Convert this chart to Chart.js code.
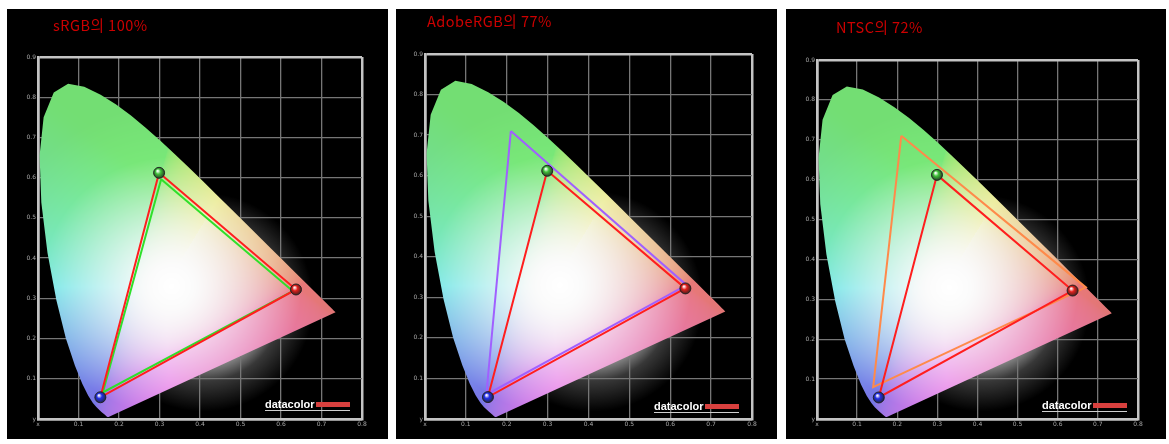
<!DOCTYPE html>
<html>
<head>
<meta charset="utf-8">
<script src="https://cdn.jsdelivr.net/npm/chart.js@4.4.1/dist/chart.umd.min.js"></script>
<style>
  html, body { margin: 0; padding: 0; background: #fff; }
  body { width: 1169px; height: 444px; position: relative; overflow: hidden; }
  .panel { position: absolute; background: #000; }
  .panel canvas { position: absolute; left: 0; top: 0; }
  .title { position: absolute; color: #cc0000; font-family: "Noto Sans CJK KR", sans-serif; font-size: 14.5px; line-height: 1; white-space: nowrap; letter-spacing: 0.5px; }
  .logo { position: absolute; display: flex; align-items: center; height: 9px; padding-bottom: 1px; border-bottom: 1px solid #cfcfcf; }
  .logo .word { color: #fff; font: bold 11px "Liberation Sans", sans-serif; letter-spacing: 0px; line-height: 9px; }
  .logo .bar { width: 34px; height: 5px; background: #d8403e; margin-left: 1px; }
</style>
</head>
<body>
<script>
// --- DATOS ---
// locus espectral CIE 1931 (x, y)
const locusX = [0.1741, 0.1733, 0.1714, 0.1689, 0.1644, 0.1566, 0.1440, 0.1355, 0.1241, 0.1096, 0.0913, 0.0687, 0.0454, 0.0235, 0.0082, 0.0039, 0.0139, 0.0389, 0.0743, 0.1142, 0.1547, 0.1929, 0.2296, 0.2658, 0.3016, 0.3373, 0.3731, 0.4087, 0.4441, 0.4788, 0.5125, 0.5448, 0.5752, 0.6029, 0.6270, 0.6482, 0.6658, 0.6915, 0.7079, 0.7190, 0.7260, 0.7300, 0.7334, 0.7347];
const locusY = [0.0050, 0.0048, 0.0051, 0.0069, 0.0109, 0.0177, 0.0297, 0.0399, 0.0578, 0.0868, 0.1327, 0.2007, 0.2950, 0.4127, 0.5384, 0.6548, 0.7502, 0.8120, 0.8338, 0.8262, 0.8059, 0.7816, 0.7543, 0.7243, 0.6923, 0.6589, 0.6245, 0.5896, 0.5547, 0.5202, 0.4866, 0.4544, 0.4242, 0.3965, 0.3725, 0.3514, 0.3340, 0.3083, 0.2920, 0.2809, 0.2740, 0.2700, 0.2666, 0.2653];

// primarios medidos (G, R, B)
const measuredX = [0.299, 0.637, 0.154];
const measuredY = [0.612, 0.322, 0.054];

// gamuts de referencia (G, R, B)
const srgbX = [0.304, 0.629, 0.160];
const srgbY = [0.596, 0.318, 0.066];
const adobeX = [0.21, 0.64, 0.15];
const adobeY = [0.71, 0.33, 0.06];
const ntscX = [0.21, 0.67, 0.14];
const ntscY = [0.71, 0.33, 0.08];

const panelTitles = ['sRGB의 100%', 'AdobeRGB의 77%', 'NTSC의 72%'];
const xTickLabels = ['x', '0.1', '0.2', '0.3', '0.4', '0.5', '0.6', '0.7', '0.8'];
const yTickLabels = ['y', '0.1', '0.2', '0.3', '0.4', '0.5', '0.6', '0.7', '0.8', '0.9'];

// --- LAYOUT ---
const panels = [
  { left: 7,   width: 381, ref: [srgbX, srgbY],   refColor: '#2ee02a', pad: { left: 11, top: 48, right: 26, bottom: 8 }, title: [46, 9],  logo: [258, 391] },
  { left: 396, width: 381, ref: [adobeX, adobeY], refColor: '#a060ff', pad: { left: 9,  top: 45, right: 25, bottom: 8 }, title: [31, 5],  logo: [258, 393] },
  { left: 786, width: 380, ref: [ntscX, ntscY],   refColor: '#ff8a4a', pad: { left: 11, top: 51, right: 28, bottom: 8 }, title: [50, 11], logo: [256, 392] }
];
const ballColors = ['#3fc23a', '#e3201c', '#2230e8'];

function pts(xs, ys, close) {
  const out = xs.map((x, i) => ({ x: x, y: ys[i] }));
  if (close) out.push(out[0]);
  return out;
}

// color del diagrama: xy -> sRGB, lavado hacia el blanco
function chromaColor(x, y) {
  const X = x / y, Z = (1 - x - y) / y;
  let r = 3.2406 * X - 1.5372 - 0.4986 * Z;
  let g = -0.9689 * X + 1.8758 + 0.0415 * Z;
  let b = 0.0557 * X - 0.2040 + 1.0570 * Z;
  r = Math.max(r, 0); g = Math.max(g, 0); b = Math.max(b, 0);
  const m = Math.max(r, g, b) || 1;
  r /= m; g /= m; b /= m;
  if (g === 1) b = b * b;                       // el verde domina más
  if (b === 1) g = Math.pow(g, 2 - r);          // azul más violeta, sin saltos
  const gam = v => v <= 0.0031308 ? 12.92 * v : 1.055 * Math.pow(v, 1 / 2.4) - 0.055;
  const d = Math.hypot(x - 0.33, y - 0.33);
  const t = Math.min(1, Math.max(0, (d - 0.05) / 0.27));
  const s = Math.pow(t, 1.2) * 0.48;
  const k = 1 - Math.min(1, d / 0.45) * 0.13;
  return [gam(r), gam(g), gam(b)].map(v => Math.round(255 * k * (1 - s + s * v)));
}

function chromaFill(chart) {
  const area = chart.chartArea;
  if (!area || !chart.scales.x) return 'rgba(0,0,0,0)';
  if (chart.$chroma) return chart.$chroma;
  const w = chart.width, h = chart.height;
  const off = document.createElement('canvas');
  off.width = w; off.height = h;
  const octx = off.getContext('2d');
  const img = octx.createImageData(w, h);
  const xs = chart.scales.x, ys = chart.scales.y;
  for (let py = Math.floor(area.top); py < Math.ceil(area.bottom); py++) {
    const cy = ys.getValueForPixel(py + 0.5);
    if (cy < 0.002) continue;
    for (let px = Math.floor(area.left); px < Math.ceil(area.right); px++) {
      const cx = xs.getValueForPixel(px + 0.5);
      const c = chromaColor(cx, cy);
      const i = (py * w + px) * 4;
      img.data[i] = c[0]; img.data[i + 1] = c[1]; img.data[i + 2] = c[2]; img.data[i + 3] = 255;
    }
  }
  octx.putImageData(img, 0, 0);
  chart.$chroma = chart.ctx.createPattern(off, 'no-repeat');
  return chart.$chroma;
}

// bolitas brillantes de los primarios
function ballFill(c) {
  const chart = c.chart;
  if (!chart.chartArea || !c.parsed) return ballColors[c.dataIndex];
  const px = chart.scales.x.getPixelForValue(c.parsed.x);
  const py = chart.scales.y.getPixelForValue(c.parsed.y);
  const g = chart.ctx.createRadialGradient(px - 1.5, py - 2, 0.5, px, py, 6.5);
  g.addColorStop(0, 'rgba(255,255,255,0.9)');
  g.addColorStop(0.35, ballColors[c.dataIndex]);
  g.addColorStop(1, '#202020');
  return g;
}

// brillo blanco detrás del diagrama
const glowPlugin = {
  id: 'glow',
  beforeDraw(chart) {
    const { ctx, chartArea: a, scales: { x, y } } = chart;
    const cx = x.getPixelForValue(0.41), cy = y.getPixelForValue(0.29);
    const r = x.getPixelForValue(0.27) - x.getPixelForValue(0);
    ctx.save();
    ctx.beginPath();
    ctx.rect(a.left, a.top, a.right - a.left, a.bottom - a.top);
    ctx.clip();
    const g = ctx.createRadialGradient(cx, cy, 0, cx, cy, r);
    g.addColorStop(0, 'rgba(255,255,255,1)');
    g.addColorStop(0.45, 'rgba(255,255,255,0.8)');
    g.addColorStop(0.72, 'rgba(255,255,255,0.22)');
    g.addColorStop(1, 'rgba(255,255,255,0)');
    ctx.fillStyle = g;
    ctx.fillRect(a.left, a.top, a.right - a.left, a.bottom - a.top);
    ctx.restore();
  }
};

function axis(labels, max) {
  return {
    type: 'linear', min: 0, max: max,
    ticks: {
      stepSize: 0.1, autoSkip: false, maxRotation: 0, padding: 2,
      color: '#a8a8a8', font: { family: 'DejaVu Sans', size: 6 },
      callback: (v, i) => labels[i]
    },
    grid: {
      drawTicks: false,
      color: c => (c.index === 0 || c.index === labels.length - 1) ? '#c4c4c4' : '#767676',
      lineWidth: c => (c.index === 0 || c.index === labels.length - 1) ? 2.5 : 1.3
    },
    border: { display: true, color: '#c4c4c4', width: 2.5 }
  };
}

panels.forEach((p, n) => {
  const div = document.createElement('div');
  div.className = 'panel';
  div.style.left = p.left + 'px';
  div.style.top = '9px';
  div.style.width = p.width + 'px';
  div.style.height = '430px';
  const canvas = document.createElement('canvas');
  canvas.width = p.width; canvas.height = 430;
  div.appendChild(canvas);

  const t = document.createElement('div');
  t.className = 'title';
  t.textContent = panelTitles[n];
  t.style.left = p.title[0] + 'px';
  t.style.top = p.title[1] + 'px';
  div.appendChild(t);

  const logo = document.createElement('div');
  logo.className = 'logo';
  logo.style.left = p.logo[0] + 'px';
  logo.style.top = p.logo[1] + 'px';
  logo.innerHTML = '<span class="word">datacolor</span><span class="bar"></span>';
  div.appendChild(logo);
  document.body.appendChild(div);

  const xAxis = axis(xTickLabels, 0.8);
  xAxis.afterFit = s => { s.height = 12; };
  const yAxis = axis(yTickLabels, 0.9);
  yAxis.afterFit = s => { s.width = 20; };

  new Chart(canvas, {
    type: 'line',
    data: {
      datasets: [
        { data: pts(locusX, locusY, true), borderColor: 'rgba(0,0,0,0)', borderWidth: 0, pointRadius: 0,
          fill: 'shape', backgroundColor: c => chromaFill(c.chart), order: 10 },
        { data: pts(p.ref[0], p.ref[1], true), borderColor: p.refColor, borderWidth: 2, pointRadius: 0,
          fill: false, borderJoinStyle: 'miter', order: 3 },
        { data: pts(measuredX, measuredY, true), borderColor: '#ff1e1e', borderWidth: 2, pointRadius: 0,
          fill: false, borderJoinStyle: 'miter', order: 2 },
        { data: pts(measuredX, measuredY, false), showLine: false, pointRadius: 5.5,
          pointBackgroundColor: c => ballFill(c), pointBorderColor: 'rgba(30,30,30,0.9)', pointBorderWidth: 1, order: 1 }
      ]
    },
    options: {
      responsive: false, animation: false, events: [],
      layout: { padding: p.pad },
      plugins: { legend: { display: false }, tooltip: { enabled: false } },
      scales: { x: xAxis, y: yAxis }
    },
    plugins: [glowPlugin]
  });
});
</script>
</body>
</html>
